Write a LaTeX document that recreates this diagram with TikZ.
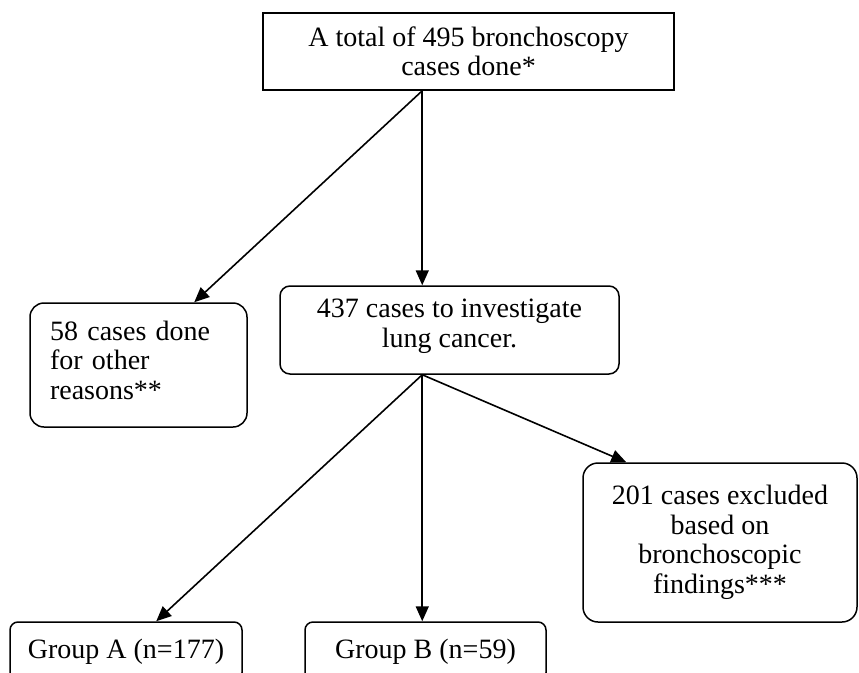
\documentclass[tikz,border=0pt]{standalone}
\usepackage{fontspec}
\setmainfont{Liberation Serif}
\usetikzlibrary{arrows.meta,calc}
\begin{document}
\begin{tikzpicture}[x=1pt,y=-1pt,
  box/.style={draw=black,line width=1.5pt,inner sep=0pt,font=\fontsize{28}{29.5}\selectfont,align=center},
  rbox/.style={box,rounded corners=12pt},
  gbox/.style={box,rounded corners=8pt},
  arr/.style={line width=1.6pt,-{Triangle[length=15pt,width=13pt]}}]
\useasboundingbox (0,0) rectangle (859,672);
\clip (0,0) rectangle (859,672);
\fill[white] (0,0) rectangle (859,672);
\node[box,minimum width=411pt,minimum height=77pt] (top) at (468.5,51.5)
  {A total of 495 bronchoscopy\\cases done*};
\node[rbox,rounded corners=10pt,minimum width=339pt,minimum height=88pt,text depth=14pt] (mid) at (449.5,330)
  {437 cases to investigate\\lung cancer.};
\node[rbox,rounded corners=14pt,minimum width=217pt,minimum height=124pt,align=left,text width=177pt,inner xsep=20pt,text depth=69pt] (left) at (138.5,365)
  {58 cases done\\for other\\reasons**};
\node[rbox,rounded corners=15pt,minimum width=274pt,minimum height=159pt] (rb) at (720,542.5)
  {201 cases excluded\\based on\\bronchoscopic\\findings***};
\node[gbox,minimum width=232pt,minimum height=58.7pt] (ga) at (126,651.35)
  {Group A (n=177)};
\node[gbox,minimum width=241pt,minimum height=58.7pt] (gb) at (425.5,651.35)
  {Group B (n=59)};
\draw[arr] ($(top.south west)+(160,0)$) -- ($(left.north west)+(165,0)$);
\draw[arr] ($(top.south west)+(160,0)$) -- ($(mid.north west)+(143,0)$);
\draw[arr] ($(mid.south west)+(143,0)$) -- ($(ga.north west)+(147,0)$);
\draw[arr] ($(mid.south west)+(143,0)$) -- ($(gb.north west)+(118,0)$);
\draw[arr] ($(mid.south west)+(143,0)$) -- ($(rb.north west)+(44,0)$);
\end{tikzpicture}
\end{document}
